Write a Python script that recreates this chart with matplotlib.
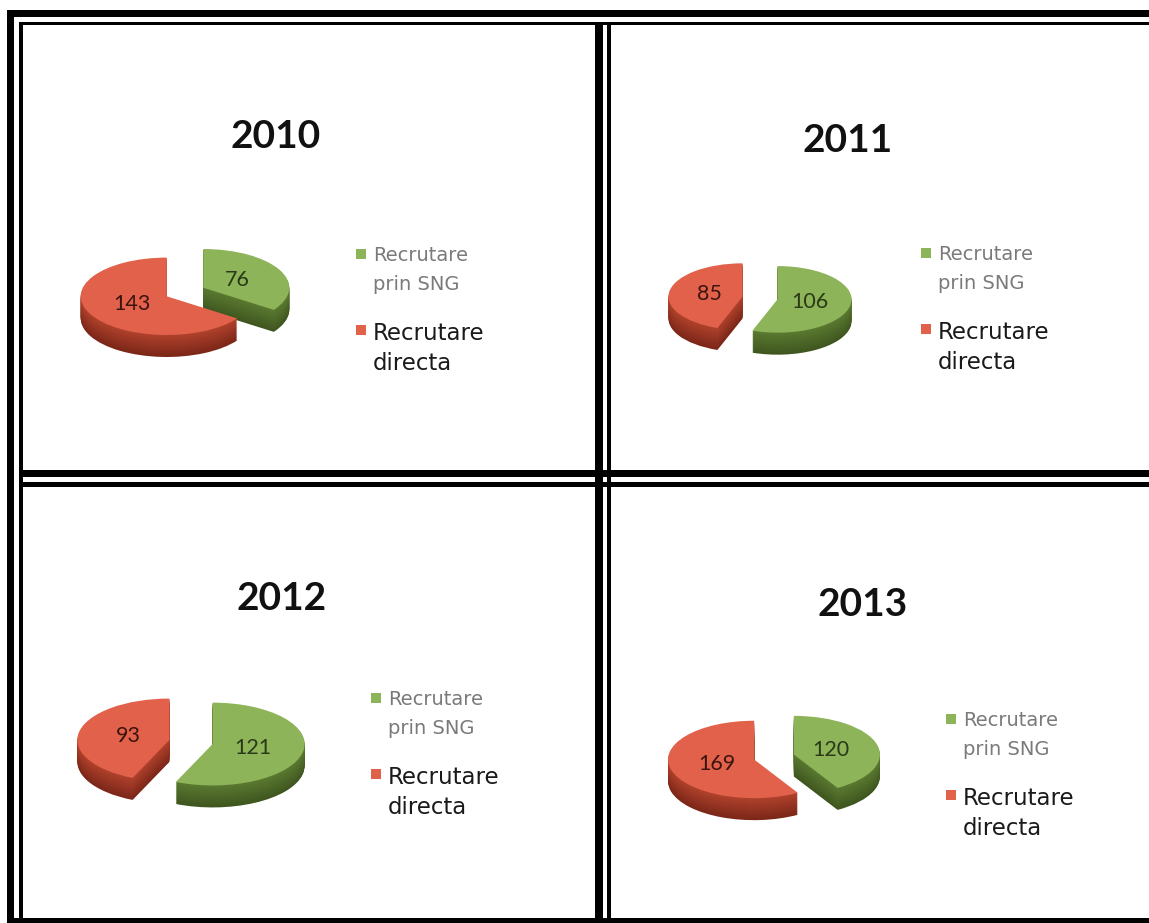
import matplotlib
matplotlib.use("Agg")
from matplotlib import pyplot as plt
from matplotlib.patches import Rectangle
from matplotlib.lines import Line2D
import numpy as np

W, H = 1149, 923

# data
years = ["2010", "2011", "2012", "2013"]
sng = [76, 106, 121, 120]
directa = [143, 85, 93, 169]
labels = ["Recrutare\nprin SNG", "Recrutare\ndirecta"]

top_colors = ["#8db458", "#e2614b"]
side_colors = ["#5b7a31", "#b0422d"]
dark_colors = ["#3f561f", "#7c2718"]
num_colors = ["#2a3a18", "#3a140e"]

# layout of each panel, in pixels of the picture
pie_center = [(185, 292), (760, 298), (191, 742), (774, 757)]
pie_radius = [86, 74, 92, 86]
title_pos = [(276, 136), (848, 141), (282, 599), (863, 605)]
legend_pos = [(355, 246), (920, 245), (370, 690), (945, 711)]

squash = 0.45
depth = 22
explode = 0.24

plt.rcParams["font.family"] = ["Lato", "DejaVu Sans"]
fig = plt.figure(figsize=(W / 100, H / 100), dpi=100)


def fig_rect(x, y, w, h):
    # rectangle in picture pixels (y down) -> figure fraction
    return [x / W, 1 - (y + h) / H, w / W, h / H]


def bar(x, y, w, h):
    fig.add_artist(Rectangle(fig_rect(x, y, w, h)[:2], w / W, h / H,
                             transform=fig.transFigure, color="black", lw=0))


def mix(c1, c2, t):
    a = np.array(matplotlib.colors.to_rgb(c1))
    b = np.array(matplotlib.colors.to_rgb(c2))
    return tuple(a * (1 - t) + b * t)


for i in range(4):
    cx, cy = pie_center[i]
    r = pie_radius[i]
    aw, ah = 3 * r, 3 * r
    ax = fig.add_axes(fig_rect(cx - aw / 2, cy - ah / 2, aw, ah))
    vals = [sng[i], directa[i]]
    tot = sum(vals)

    # side of the 3d pie: stacked copies, darker at the bottom
    d = depth / (r * squash)
    for k in range(depth, 0, -1):
        t = k / depth
        cols = [mix(side_colors[j], dark_colors[j], t) for j in range(2)]
        ax.pie(vals, colors=cols, startangle=90, counterclock=False,
               explode=[explode, explode], center=(0, -d * k / depth),
               wedgeprops=dict(linewidth=0))

    wedges, _, autotexts = ax.pie(
        vals, colors=top_colors, startangle=90, counterclock=False,
        explode=[explode, explode], autopct=lambda p: "%d" % round(p * tot / 100),
        pctdistance=0.45, wedgeprops=dict(linewidth=0),
        textprops=dict(fontsize=15.5))
    for j, t in enumerate(autotexts):
        t.set_color(num_colors[j])

    ax.set_aspect("auto")
    ax.set_xlim(-aw / 2 / r, aw / 2 / r)
    ax.set_ylim(-ah / 2 / (r * squash), ah / 2 / (r * squash))
    ax.axis("off")

    tx, ty = title_pos[i]
    fig.text(tx / W, 1 - ty / H, years[i], ha="center", va="center",
             fontsize=28, fontweight="bold", color="#111111")

    # square legend keys in the slice colours
    keys = [Line2D([], [], ls="", marker="s", markersize=6.5,
                   markerfacecolor=c, markeredgewidth=0) for c in top_colors]
    lx, ly = legend_pos[i]
    leg = ax.legend(keys, labels, loc="upper left",
                    bbox_to_anchor=(lx / W, 1 - ly / H),
                    bbox_transform=fig.transFigure, frameon=False,
                    handlelength=0.6, handleheight=1.05, handletextpad=0.33,
                    labelspacing=1.45, borderpad=0, borderaxespad=0,
                    prop=dict(family="DejaVu Sans", size=14))
    txts = leg.get_texts()
    txts[0].set_fontsize(14)
    txts[0].set_color("#7a7a7a")
    txts[0].set_linespacing(1.68)
    txts[1].set_fontsize(16.5)
    txts[1].set_color("#1a1a1a")
    txts[1].set_linespacing(1.34)
    # put the square next to the first line of each label
    for col in leg._legend_handle_box.get_children():
        for row in col.get_children():
            row.align = "top"

# black double frames around the four panels
bar(7, 10, W - 7, 7)
bar(20, 22, W - 20, 3)
bar(7, 10, 7, H - 10)
bar(19, 22, 4, H - 22)
bar(595, 22, 8, H - 22)
bar(607, 22, 4, H - 22)
bar(20, 470, W - 20, 7)
bar(20, 482, W - 20, 5)
bar(7, 918, W - 7, 5)

fig.savefig("out.png", dpi=100)
